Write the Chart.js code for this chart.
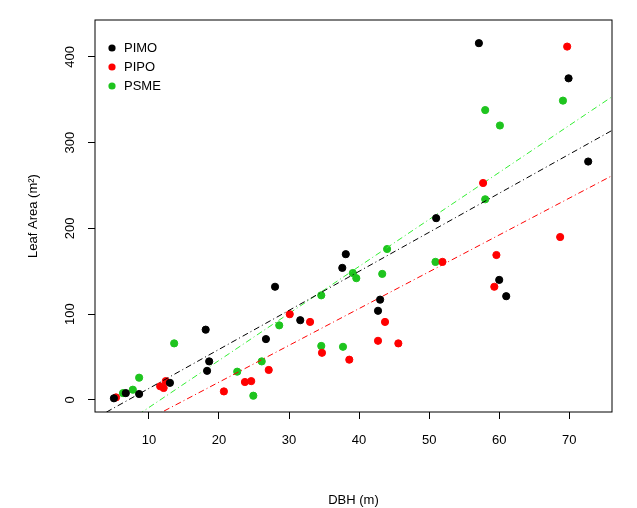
<!DOCTYPE html>
<html><head><meta charset="utf-8">
<script src="https://cdn.jsdelivr.net/npm/chart.js@4"></script>
<style>body{margin:0;background:#fff}#wrap{width:637px;height:508px}</style>
</head><body><div id="wrap"><canvas id="c"></canvas></div>
<script>
const pimoX = [57.1, 69.9, 72.7, 51, 60, 61, 38.1, 37.6, 43, 42.7, 31.6, 28, 26.7, 18.1, 18.6, 18.3, 13, 8.6, 6.7, 5];
const pimoY = [416, 375, 278, 212, 140, 121, 170, 154, 117, 104, 93, 132, 71, 82, 45, 34, 20, 7, 8, 2];
const pipoX = [69.7, 57.7, 68.7, 59.6, 59.3, 51.9, 30.1, 33, 43.7, 42.7, 45.6, 34.7, 38.6, 27.1, 24.6, 23.7, 20.7, 12.4, 11.6, 12.1, 5.3];
const pipoY = [412, 253, 190, 169, 132, 161, 100, 91, 91, 69, 66, 55, 47, 35, 22, 21, 10, 22, 16, 14, 3];
const psmeX = [69.1, 58, 60.1, 58, 50.9, 44, 43.3, 39.1, 39.6, 34.6, 28.6, 34.6, 37.7, 26.1, 22.6, 13.6, 8.6, 7.7, 24.9, 6.3];
const psmeY = [349, 338, 320, 234, 161, 176, 147, 148, 142, 122, 87, 63, 62, 45, 33, 66, 26, 12, 5, 8];
// fitted lines: [intercept, slope]
const pimoFit = [-32, 4.55];
const pipoFit = [-65, 4.29];
const psmeFit = [-63.5, 5.48];
const xTicks = [10, 20, 30, 40, 50, 60, 70];
const yTicks = [0, 100, 200, 300, 400];
const xMin = 2.3, xMax = 76.1, yMin = -14, yMax = 443;

const pts = (xs, ys) => xs.map((x, i) => ({ x, y: ys[i] }));
const fitLine = (f) => [{ x: xMin, y: f[0] + f[1] * xMin }, { x: xMax, y: f[0] + f[1] * xMax }];

const series = [
    { label: "PIMO", x: pimoX, y: pimoY, fit: pimoFit, color: "#000000", lineColor: "#000000" },
    { label: "PIPO", x: pipoX, y: pipoY, fit: pipoFit, color: "#ff0000", lineColor: "#ff0000" },
    { label: "PSME", x: psmeX, y: psmeY, fit: psmeFit, color: "#1ec41e", lineColor: "#33ee33" }
];

const datasets = [];
series.forEach((s) => {
    datasets.push({
        type: "line", data: fitLine(s.fit), borderColor: s.lineColor, borderWidth: 1,
        borderDash: [6, 3, 1, 3], pointRadius: 0, fill: false
    });
    datasets.push({
        type: "scatter", label: s.label, data: pts(s.x, s.y), backgroundColor: s.color,
        borderColor: s.color, pointRadius: 3.6
    });
});

const rPlot = {
    id: "rPlot",
    afterDraw(chart) {
        const { ctx, chartArea: a, scales } = chart;
        ctx.save();
        ctx.strokeStyle = "#000";
        ctx.lineWidth = 1;
        ctx.strokeRect(a.left, a.top, a.right - a.left, a.bottom - a.top);
        ctx.fillStyle = "#000";
        ctx.font = "13px 'Liberation Sans', Arial, sans-serif";
        yTicks.forEach((v) => {
            const py = scales.y.getPixelForValue(v);
            ctx.save();
            ctx.translate(a.left - 18, py);
            ctx.rotate(-Math.PI / 2);
            ctx.textAlign = "center";
            ctx.textBaseline = "bottom";
            ctx.fillText(String(v), 0, 0);
            ctx.restore();
        });
        ctx.save();
        ctx.translate(40, (a.top + a.bottom) / 2);
        ctx.rotate(-Math.PI / 2);
        ctx.textAlign = "center";
        ctx.textBaseline = "bottom";
        ctx.fillText("Leaf Area (m²)", 0, 0);
        ctx.restore();
        series.forEach((s, i) => {
            const y = 48 + i * 19;
            ctx.beginPath();
            ctx.arc(112, y, 3.6, 0, Math.PI * 2);
            ctx.fillStyle = s.color;
            ctx.fill();
            ctx.fillStyle = "#000";
            ctx.textAlign = "left";
            ctx.textBaseline = "middle";
            ctx.fillText(s.label, 124, y);
        });
        ctx.restore();
    }
};

new Chart(document.getElementById("c"), {
    type: "scatter",
    data: { datasets },
    options: {
        responsive: true, maintainAspectRatio: false, animation: false,
        layout: { padding: { top: 20, right: 25, left: 0, bottom: 0 } },
        plugins: { legend: { display: false }, tooltip: { enabled: false } },
        scales: {
            x: {
                type: "linear", min: xMin, max: xMax,
                afterBuildTicks: (ax) => { ax.ticks = xTicks.map((v) => ({ value: v })); },
                afterFit: (ax) => { ax.height = 96; },
                grid: { drawOnChartArea: false, tickLength: 7, color: "#000" },
                border: { display: false },
                ticks: { color: "#000", font: { size: 13, family: "'Liberation Sans', Arial" }, padding: 14, maxRotation: 0 },
                title: { display: true, text: "DBH (m)", color: "#000", font: { size: 13, family: "'Liberation Sans', Arial" }, padding: { top: 28, bottom: 0 } }
            },
            y: {
                type: "linear", min: yMin, max: yMax,
                afterBuildTicks: (ax) => { ax.ticks = yTicks.map((v) => ({ value: v })); },
                afterFit: (ax) => { ax.width = 95; },
                grid: { drawOnChartArea: false, tickLength: 7, color: "#000" },
                border: { display: false },
                ticks: { display: false }
            }
        }
    },
    plugins: [rPlot]
});
</script>
</body></html>
